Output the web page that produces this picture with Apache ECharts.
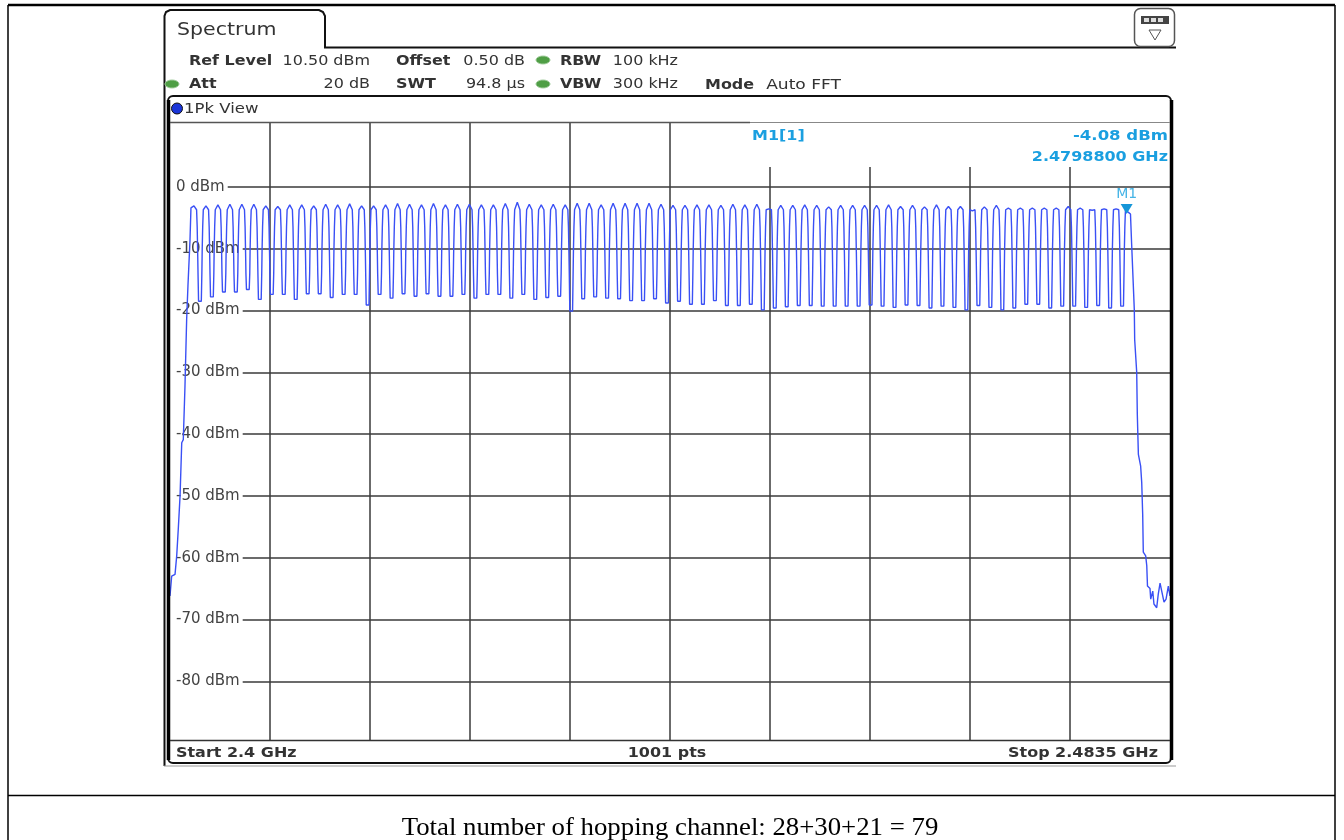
<!DOCTYPE html>
<html>
<head>
<meta charset="utf-8">
<title>Spectrum</title>
<style>
    html, body { margin: 0; padding: 0; background: #fff; }
    #main { width: 1344px; height: 840px; }
</style>
<script src="https://cdn.jsdelivr.net/npm/echarts@6/dist/echarts.min.js"></script>
</head>
<body>
<div id="main"></div>
<script>
// hopping channels, MHz
var channels = [2402,2403,2404,2405,2406,2407,2408,2409,2410,2411,2412,2413,2414,2415,2416,2417,2418,2419,2420,2421,
    2422,2423,2424,2425,2426,2427,2428,2429,2430,2431,2432,2433,2434,2435,2436,2437,2438,2439,2440,2441,
    2442,2443,2444,2445,2446,2447,2448,2449,2450,2451,2452,2453,2454,2455,2456,2457,2458,2459,2460,2461,
    2462,2463,2464,2465,2466,2467,2468,2469,2470,2471,2472,2473,2474,2475,2476,2477,2478,2479,2480];
// level at the top of each channel, dBm
var peaks = [-3.07,-3.07,-2.91,-2.8,-2.8,-2.8,-3.07,-3.18,-2.91,-2.91,-3.07,-2.8,-2.91,-2.75,-3.07,
    -3.07,-2.91,-2.69,-2.8,-2.91,-2.69,-2.91,-2.8,-2.8,-2.91,-2.91,-2.69,-2.48,-2.8,-2.91,-2.8,
    -2.91,-2.64,-2.64,-2.91,-2.64,-2.64,-2.64,-2.64,-2.8,-3.01,-3.01,-2.91,-2.91,-3.01,-2.8,-2.91,
    -2.8,-3.55,-3.01,-3.01,-2.91,-3.01,-3.23,-3.01,-3.01,-3.01,-3.01,-2.91,-3.18,-3.01,-3.23,-2.91,
    -3.18,-3.18,-3.88,-3.23,-3.01,-3.45,-3.45,-3.45,-3.45,-3.45,-3.18,-3.45,-3.77,-3.55,-3.55,-4.08];
// floor between a channel and the next one, dBm
var dips = [-18.5,-17.8,-17,-17,-16.6,-18.2,-17.4,-17.4,-18.2,-17.3,-17.3,-17.9,-17.4,-17.4,-19.1,
    -17.4,-18,-17.3,-17.7,-17.3,-17.7,-17.7,-17.4,-18,-17.4,-17.4,-18,-17.4,-18.2,-17.9,-17.7,
    -20.1,-18.1,-17.8,-18,-18.1,-18.4,-18.4,-18.1,-18.8,-18.5,-19,-19,-18.4,-19.2,-19.2,-19,
    -19.9,-19.6,-19.4,-19.2,-19.2,-19.3,-19.3,-19.3,-19.3,-19.1,-19.3,-19.5,-19.1,-19.2,-19.6,-19.3,
    -19.5,-19.9,-19.2,-19.5,-19.9,-19.6,-19,-19,-19.6,-19.3,-19.3,-19.5,-19.2,-19.6,-19.3];
// edge of one channel: offset from channel centre (MHz) and level (dBm)
var riseOffset = [-0.34, -0.31, -0.27, -0.22];
var riseLevel = [-14, -10, -6.5, -3.7];
var fallOffset = [0.22, 0.27, 0.31, 0.34];
var fallLevel = [-3.7, -6.5, -10.5, -14];
var floorOffset = 0.385;
// band edges
var lowSkirtMHz = [2400,2400.03,2400.14,2400.42,2400.56,2400.69,2400.84,2400.98,2401.11,2401.25,2401.39,2401.5,2401.67,2401.75];
var lowSkirtDbm = [-66.2,-66,-63,-62.7,-59.7,-55.4,-50,-41.4,-40.9,-32.3,-21.5,-16,-8.6,-3.4];
var highSkirtMHz = [2480.2,2480.3,2480.41,2480.52,2480.55,2480.66,2480.72,2480.77,2480.85,2480.86,2481,2481.05,2481.14,2481.22,2481.27,2481.47,2481.56,2481.6,2481.62,2481.83,2481.89,2482.06,2482.16,2482.39,2482.52,2482.67,2482.8,2483,2483.17,2483.36,2483.5];
var highSkirtDbm = [-4.4,-9.4,-9.6,-19.9,-24.7,-25,-30,-36.8,-37.1,-43.3,-43.6,-45.2,-47.9,-53,-59.1,-59.7,-61.3,-63.5,-64.6,-65,-66.7,-65.4,-67.5,-68.1,-65.9,-64.1,-64.1,-67.2,-66.7,-64.6,-66.2];
var xTicks = [2408.35,2416.7,2425.05,2433.4,2441.75,2450.1,2458.45,2466.8,2475.15];
var yTicks = [0,-10,-20,-30,-40,-50,-60,-70,-80];
var markerMHz = 2479.88;
var markerDbm = -4.08;

var trace = [];
lowSkirtMHz.forEach(function (f, i) { trace.push([f, lowSkirtDbm[i]]); });
channels.forEach(function (c, k) {
    if (k > 0) {
        trace.push([c - floorOffset, dips[k - 1]]);
        riseOffset.forEach(function (o, i) { trace.push([c + o, riseLevel[i]]); });
    }
    trace.push([c, peaks[k]]);
    if (k < channels.length - 1) {
        fallOffset.forEach(function (o, i) { trace.push([c + o, fallLevel[i]]); });
        trace.push([c + floorOffset, dips[k]]);
    }
});
highSkirtMHz.forEach(function (f, i) { trace.push([f, highSkirtDbm[i]]); });

var dark = '#333333';
var cyan = '#1a9fe0';
var mono = '"DejaVu Sans"';

function label(x, y, text, opt) {
    opt = opt || {};
    return {
        type: 'text', x: x, y: y + 1, z: 20, scaleX: opt.stretch || 1.14,
        style: {
            text: text,
            fill: opt.color || dark,
            font: (opt.bold ? 'bold ' : '') + (opt.size || 14) + 'px ' + (opt.family || mono),
            align: opt.align || 'left',
            verticalAlign: 'middle'
        }
    };
}
function line(x1, y1, x2, y2, w, color) {
    return { type: 'line', z: 15, shape: { x1: x1, y1: y1, x2: x2, y2: y2 }, style: { stroke: color || '#000', lineWidth: w || 1 } };
}
function dot(x, y) {
    return { type: 'ellipse', z: 20, shape: { cx: x, cy: y, rx: 7, ry: 4 }, style: { fill: '#4f9e45', stroke: '#a5cfa0', lineWidth: 1 } };
}

var chrome = [
    // page table
    line(8, 5, 1335, 5, 2.5), line(8, 5, 8, 840, 1.5), line(1335, 5, 1335, 840, 1.5), line(8, 795.5, 1335, 795.5, 1.5),
    label(670, 827, 'Total number of hopping channel: 28+30+21 = 79', { family: '"Liberation Serif"', size: 26, stretch: 1.03, align: 'center', color: '#000' }),
    // mask behind the marker readout
    { type: 'rect', z: 1, shape: { x: 750, y: 122, width: 420, height: 45 }, style: { fill: '#fff' } },
    // tab and window
    { type: 'polyline', z: 15, shape: { points: [[164.5, 766], [164.5, 16], [166, 12], [170, 10], [319, 10], [323, 12], [325, 16], [325, 47.5], [1176, 47.5]] }, style: { fill: 'none', stroke: '#111', lineWidth: 2 } },
    line(164, 766, 1176, 766, 1, '#999'),
    { type: 'rect', z: 15, shape: { x: 168, y: 96, width: 1003, height: 667, r: 5 }, style: { fill: 'none', stroke: '#111', lineWidth: 2 } },
    line(168.5, 100, 168.5, 760, 3.5, '#000'), line(1171.5, 100, 1171.5, 760, 3.5, '#000'),
    line(170, 122.5, 750, 122.5, 1.5, '#555'), line(750, 122.5, 1170, 122.5, 1, '#888'),
    line(170, 740.5, 1170, 740.5, 1.5, '#333'),
    label(177, 29, 'Spectrum', { size: 18 }),
    // settings
    label(189, 60, 'Ref Level', { bold: true }), label(370, 60, '10.50 dBm', { align: 'right' }),
    label(396, 60, 'Offset', { bold: true }), label(525, 60, '0.50 dB', { align: 'right' }),
    dot(543, 60),
    label(560, 60, 'RBW', { bold: true }), label(678, 60, '100 kHz', { align: 'right' }),
    dot(172, 84),
    label(189, 83, 'Att', { bold: true }), label(370, 83, '20 dB', { align: 'right' }),
    label(396, 83, 'SWT', { bold: true }), label(525, 83, '94.8 µs', { align: 'right' }),
    dot(543, 84),
    label(560, 83, 'VBW', { bold: true }), label(678, 83, '300 kHz', { align: 'right' }),
    label(705, 84, 'Mode', { bold: true }), label(841, 84, 'Auto FFT', { align: 'right', stretch: 1.22 }),
    // trace info
    { type: 'circle', z: 20, shape: { cx: 177, cy: 108.5, r: 5.5 }, style: { fill: '#1a35d8', stroke: '#111', lineWidth: 1 } },
    label(184, 108, '1Pk View', { stretch: 1.18 }),
    label(752, 135, 'M1[1]', { bold: true, color: cyan }),
    label(1168, 135, '-4.08 dBm', { bold: true, color: cyan, align: 'right', stretch: 1.18 }),
    label(1168, 156, '2.4798800 GHz', { bold: true, color: cyan, align: 'right' }),
    // footer
    label(176, 752, 'Start 2.4 GHz', { bold: true }),
    label(667, 752, '1001 pts', { bold: true, align: 'center' }),
    label(1158, 752, 'Stop 2.4835 GHz', { bold: true, align: 'right' }),
    // view button
    { type: 'rect', z: 20, shape: { x: 1134.5, y: 8.5, width: 40, height: 38, r: 6 }, style: { fill: '#fff', stroke: '#555', lineWidth: 1.5 } },
    { type: 'rect', z: 21, shape: { x: 1141, y: 16, width: 28, height: 8 }, style: { fill: '#444' } },
    { type: 'rect', z: 22, shape: { x: 1144, y: 18, width: 5, height: 4 }, style: { fill: '#ddd' } },
    { type: 'rect', z: 22, shape: { x: 1151, y: 18, width: 5, height: 4 }, style: { fill: '#ddd' } },
    { type: 'rect', z: 22, shape: { x: 1158, y: 18, width: 5, height: 4 }, style: { fill: '#ddd' } },
    { type: 'polygon', z: 21, shape: { points: [[1149, 30], [1161, 30], [1155, 40]] }, style: { fill: '#fff', stroke: '#555', lineWidth: 1 } }
];

var chart = echarts.init(document.getElementById('main'), null, { renderer: 'canvas' });
chart.setOption({
    animation: false,
    backgroundColor: '#fff',
    grid: { left: 170, top: 122, width: 1000, height: 618 },
    xAxis: {
        type: 'value', min: 2400, max: 2483.5,
        axisLine: { show: false },
        axisTick: { show: false, customValues: xTicks },
        axisLabel: { show: false, customValues: xTicks },
        splitLine: { show: true, lineStyle: { color: '#3a3a3a', width: 1.5 } }
    },
    yAxis: {
        type: 'value', min: -89.5, max: 10.5,
        axisLine: { show: false },
        axisTick: { show: false, customValues: yTicks },
        axisLabel: {
            inside: true, margin: 0, customValues: yTicks,
            formatter: function (v) { return v + ' dBm'; },
            color: '#444', fontFamily: 'DejaVu Sans', fontSize: 15,
            backgroundColor: '#fff', padding: [2, 3, 0, 6]
        },
        splitLine: { show: true, lineStyle: { color: '#3a3a3a', width: 1.5 } }
    },
    graphic: { elements: chrome },
    series: [{
        type: 'line',
        data: trace,
        showSymbol: false,
        lineStyle: { color: '#3a50f5', width: 1.4 },
        markPoint: {
            symbol: 'triangle', symbolRotate: 180, symbolSize: [12, 10], symbolOffset: [0, -3],
            itemStyle: { color: '#1596d8' },
            label: { show: true, position: 'top', distance: 3, formatter: 'M1', color: '#45b4e6', fontFamily: 'DejaVu Sans', fontSize: 14 },
            data: [{ coord: [markerMHz, markerDbm] }]
        }
    }]
});
</script>
</body>
</html>
